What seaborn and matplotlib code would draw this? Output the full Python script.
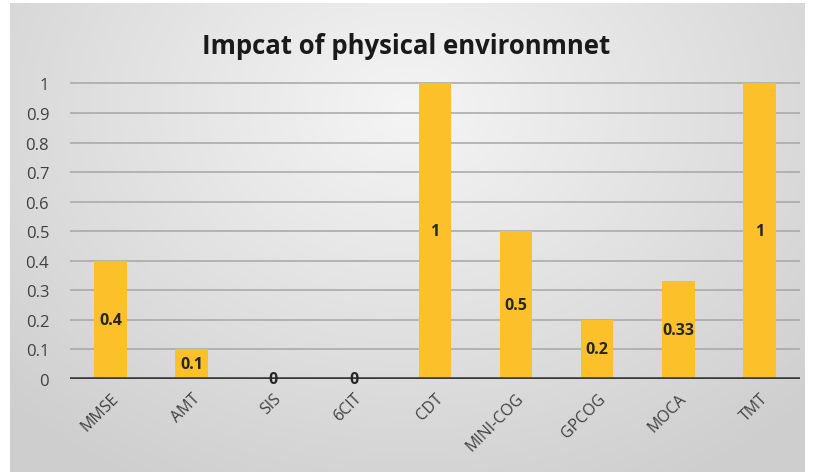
import numpy as np
import pandas as pd
import matplotlib
matplotlib.use("Agg")
import matplotlib.pyplot as plt
import seaborn as sns

categories = ["MMSE", "AMT", "SIS", "6CIT", "CDT", "MINI-COG", "GPCOG", "MOCA", "TMT"]
values = [0.4, 0.1, 0, 0, 1, 0.5, 0.2, 0.33, 1]
value_labels = ["0.4", "0.1", "0", "0", "1", "0.5", "0.2", "0.33", "1"]
y_ticks = [0, 0.1, 0.2, 0.3, 0.4, 0.5, 0.6, 0.7, 0.8, 0.9, 1]
y_tick_labels = ["0", "0.1", "0.2", "0.3", "0.4", "0.5", "0.6", "0.7", "0.8", "0.9", "1"]
title = "Impcat of physical environmnet"

sns.set_theme(style="white")
plt.rcParams["font.family"] = ["Open Sans", "DejaVu Sans"]

W, H = 813, 477
fig = plt.figure(figsize=(W / 100, H / 100), dpi=100)
fig.patch.set_facecolor("white")

# chart area with a soft radial grey gradient
bg = fig.add_axes([10 / W, 4 / H, 795 / W, 469 / H])
gx, gy = np.meshgrid(np.linspace(-1, 1, 400), np.linspace(-1, 1, 240))
r = np.sqrt((gx / 1.0) ** 2 + ((gy + 0.55) / 1.3) ** 2)
shade = 0.96 - 0.15 * np.clip(r, 0, 1.4) / 1.4
bg.imshow(np.dstack([shade] * 3), aspect="auto", extent=[0, 1, 0, 1], origin="upper",
          interpolation="bicubic")
bg.set_axis_off()

ax = fig.add_axes([70 / W, (H - 380) / H, 730 / W, 297 / H])
ax.patch.set_alpha(0)
df = pd.DataFrame({"test": categories, "value": values})
sns.barplot(data=df, x="test", y="value", ax=ax, color="#FBC02A", saturation=1,
            width=0.4, edgecolor="none")

ax.set_ylim(0, 1.005)
ax.set_xlim(-0.5, len(categories) - 0.5)
ax.set_yticks(y_ticks)
ax.set_yticklabels(y_tick_labels, fontsize=12, color="#404040")
ax.set_xticks(range(len(categories)))
ax.set_xticklabels(categories, rotation=45, ha="right", rotation_mode="anchor",
                   fontsize=11.5, color="#404040")
ax.tick_params(axis="x", length=0, pad=8)
ax.tick_params(axis="y", length=0, pad=15)
ax.set_xlabel("")
ax.set_ylabel("")
for y in y_ticks[1:]:
    ax.axhline(y, color="#a6a6a6", lw=1.1, zorder=0)
ax.axhline(0, color="#3a3a3a", lw=2.6, zorder=3)
for s in ax.spines.values():
    s.set_visible(False)

for i, (v, lab) in enumerate(zip(values, value_labels)):
    ax.text(i, v / 2, lab, ha="center", va="center", fontsize=11.5,
            fontweight="bold", color="#262626", zorder=4)

fig.text(0.5, (H - 46) / H, title, ha="center", va="center", fontsize=18.5,
         fontweight="bold", color="#1a1a1a")

fig.savefig("out.png", dpi=100)
